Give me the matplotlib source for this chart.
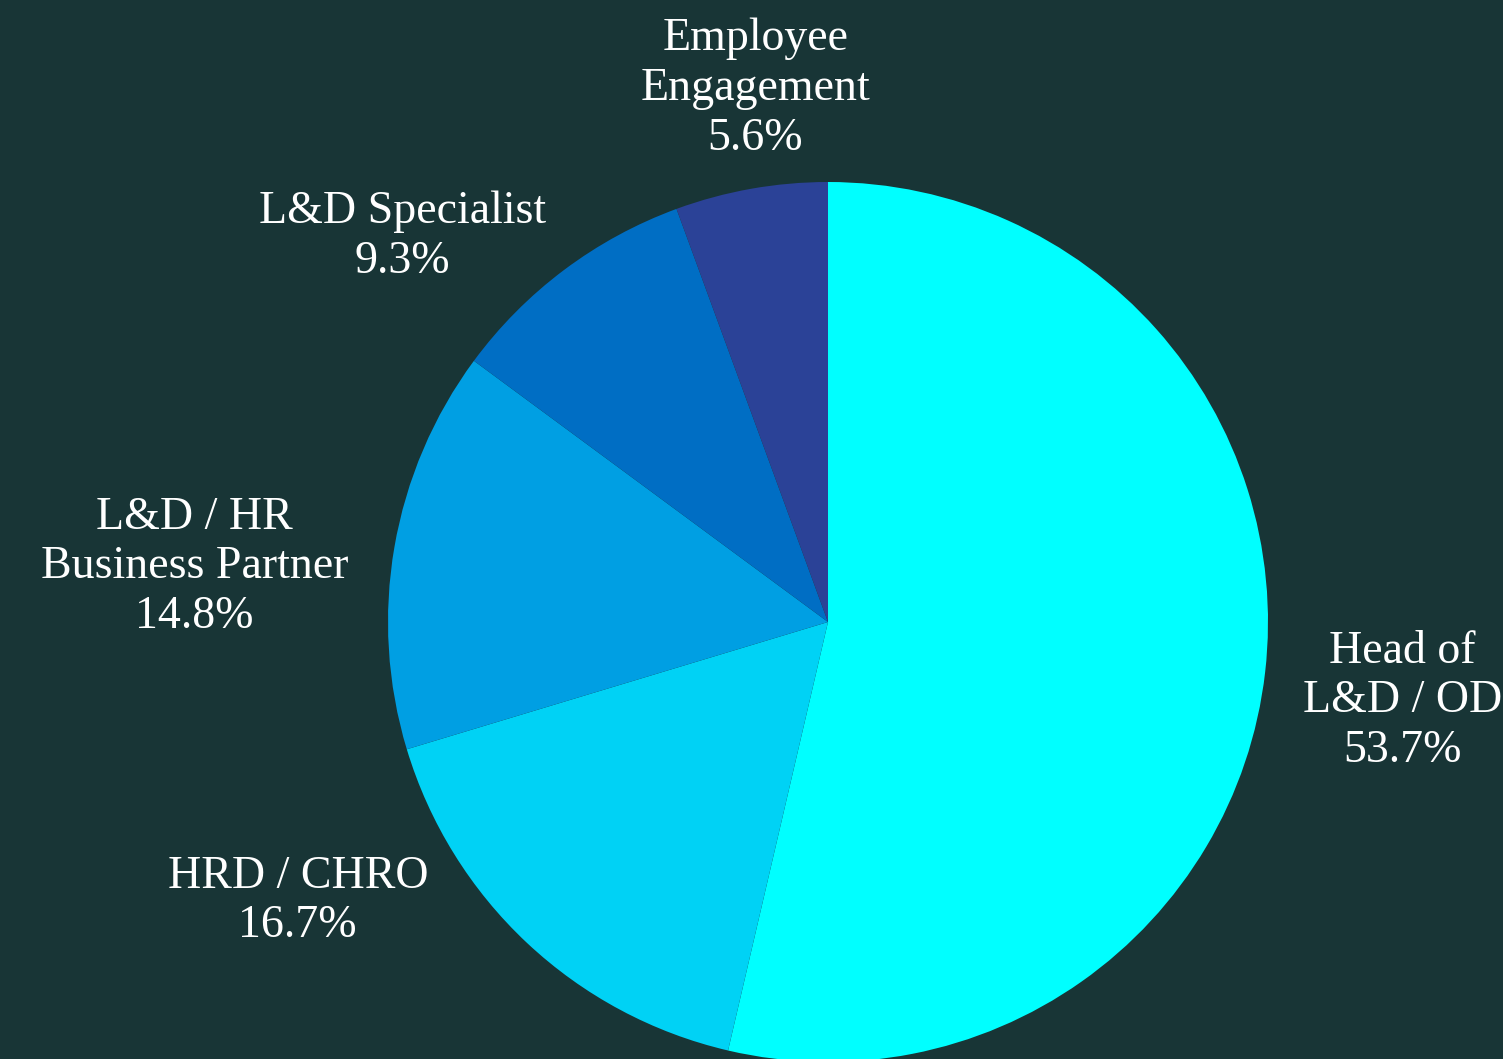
import numpy as np
import matplotlib
matplotlib.use('Agg')
import matplotlib.pyplot as plt

# roles of the respondents, clockwise from 12 o'clock
roles = ['Head of\nL&D / OD', 'HRD / CHRO', 'L&D / HR\nBusiness Partner',
         'L&D Specialist', 'Employee\nEngagement']
shares = [53.7, 16.7, 14.8, 9.3, 5.6]
colours = ['#00FFFF', '#00D2F5', '#009FE3', '#006EC4', '#2B4297']

# label centres, in units of the pie radius (layout only)
label_pos = [(1.305, -0.18), (-1.205, -0.635), (-1.44, 0.125),
             (-0.968, 0.875), (-0.165, 1.212)]

bg = '#183536'
fig = plt.figure(figsize=(15.03, 10.59), dpi=100, facecolor=bg)
ax = fig.add_axes([0, 0, 1, 1])
ax.set_facecolor(bg)

ax.pie(shares, colors=colours, startangle=90, counterclock=False,
       radius=1.0, center=(0, 0), wedgeprops=dict(linewidth=0))

for role, val, (x, y) in zip(roles, shares, label_pos):
    ax.text(x, y, '%s\n%.1f%%' % (role, val), ha='center', va='center',
            multialignment='center', color='white', fontsize=33,
            family='Liberation Serif', linespacing=1.22)

ax.set_xlim(-828 / 440, (1503 - 828) / 440)
ax.set_ylim(-(1059 - 622) / 440, 622 / 440)
ax.set_aspect('auto')
ax.axis('off')

plt.savefig('out.png', dpi=100, facecolor=bg)
